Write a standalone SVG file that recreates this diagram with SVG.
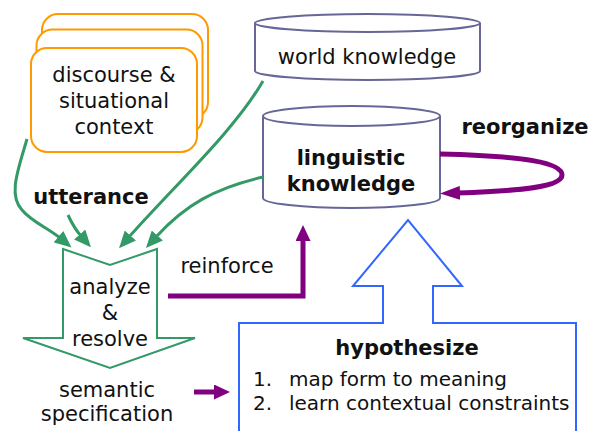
<svg xmlns="http://www.w3.org/2000/svg" width="592" height="431" viewBox="0 0 592 431">
<defs>
<style>
text{font-family:"DejaVu Sans","Verdana",sans-serif;font-size:21px;fill:#111;text-anchor:middle}
.b{font-weight:bold}
.l{text-anchor:start;font-size:20px}
.ctx{fill:#fff;stroke:#ff9900;stroke-width:2}
.cyl{fill:#fff;stroke:#666699;stroke-width:2}
.g{fill:none;stroke:#339966;stroke-width:3}
.p{fill:none;stroke:#800080;stroke-width:5}
</style>
<marker id="ga" markerUnits="userSpaceOnUse" markerWidth="17" markerHeight="15" refX="2" refY="7.5" orient="auto"><path d="M0,0 L17,7.5 L0,15 z" fill="#339966"/></marker>
<marker id="pa" markerUnits="userSpaceOnUse" markerWidth="16" markerHeight="15" refX="2" refY="7.5" orient="auto"><path d="M0,0 L16,7.5 L0,15 z" fill="#800080"/></marker>
<marker id="pb" markerUnits="userSpaceOnUse" markerWidth="20" markerHeight="14" refX="2" refY="7" orient="auto"><path d="M0,0 L20,7 L0,14 z" fill="#800080"/></marker>
</defs>
<rect width="592" height="431" fill="#fff"/>

<g id="context">
<rect class="ctx" x="42" y="14" width="166" height="104" rx="16"/>
<rect class="ctx" x="36.5" y="29.5" width="166" height="104" rx="16"/>
<rect class="ctx" x="31" y="48" width="166" height="104" rx="16"/>
<text x="114" y="82">discourse &amp;</text>
<text x="114" y="108">situational</text>
<text x="114" y="134">context</text>
</g>

<g id="world">
<path class="cyl" d="M255,23 L255,71 A112.5,9 0 0 0 480,71 L480,23"/>
<ellipse class="cyl" cx="367.5" cy="23" rx="112.5" ry="9"/>
<text x="367" y="64">world knowledge</text>
</g>

<g id="linguistic">
<path class="cyl" d="M263,116 L263,198 A88.5,10 0 0 0 440,198 L440,116"/>
<ellipse class="cyl" cx="351.5" cy="116" rx="88.5" ry="10"/>
<text class="b" x="351" y="165">linguistic</text>
<text class="b" x="351" y="191">knowledge</text>
</g>

<g id="analyze">
<polygon points="63,249 110,265 157,249 157,338 195,338 110,368 23,338 63,338" fill="#fff" stroke="#339966" stroke-width="2"/>
<text x="110" y="294">analyze</text>
<text x="110" y="320">&amp;</text>
<text x="110" y="346">resolve</text>
</g>

<g id="semantic">
<text x="107" y="397">semantic</text>
<text x="107" y="421">specification</text>
</g>

<g id="hypothesize">
<path d="M239,440 L239,323 L383,323 L383,286 L353,286 L408,220 L462,286 L433,286 L433,323 L576,323 L576,440" fill="#fff" stroke="#3366ff" stroke-width="2"/>
<text class="b" x="407" y="355">hypothesize</text>
<text class="l" x="253" y="386">1.</text>
<text class="l" x="289" y="386">map form to meaning</text>
<text class="l" x="253" y="410">2.</text>
<text class="l" x="289" y="410">learn contextual constraints</text>
</g>

<g id="labels">
<text class="b" x="91" y="204">utterance</text>
<text class="b" x="525" y="134">reorganize</text>
<text x="227" y="273">reinforce</text>
</g>

<g id="connectors">
<path class="g" d="M27,139 C18,170 8,195 22,210 C32,222 48,228 60,238" marker-end="url(#ga)"/>
<path class="g" d="M68,215 Q74,228 81,236" marker-end="url(#ga)"/>
<path class="g" d="M263,81 C235,130 175,185 129,237" marker-end="url(#ga)"/>
<path class="g" d="M263,177 C215,188 185,205 156,237" marker-end="url(#ga)"/>
<path class="p" d="M168,296 L303,296 L303,239" marker-end="url(#pa)"/>
<path class="p" d="M440,154 C525,156 562,163 562,175 C562,187 520,191 458,193" marker-end="url(#pb)"/>
<path class="p" d="M194,392 L216,392" marker-end="url(#pa)"/>
</g>
</svg>
